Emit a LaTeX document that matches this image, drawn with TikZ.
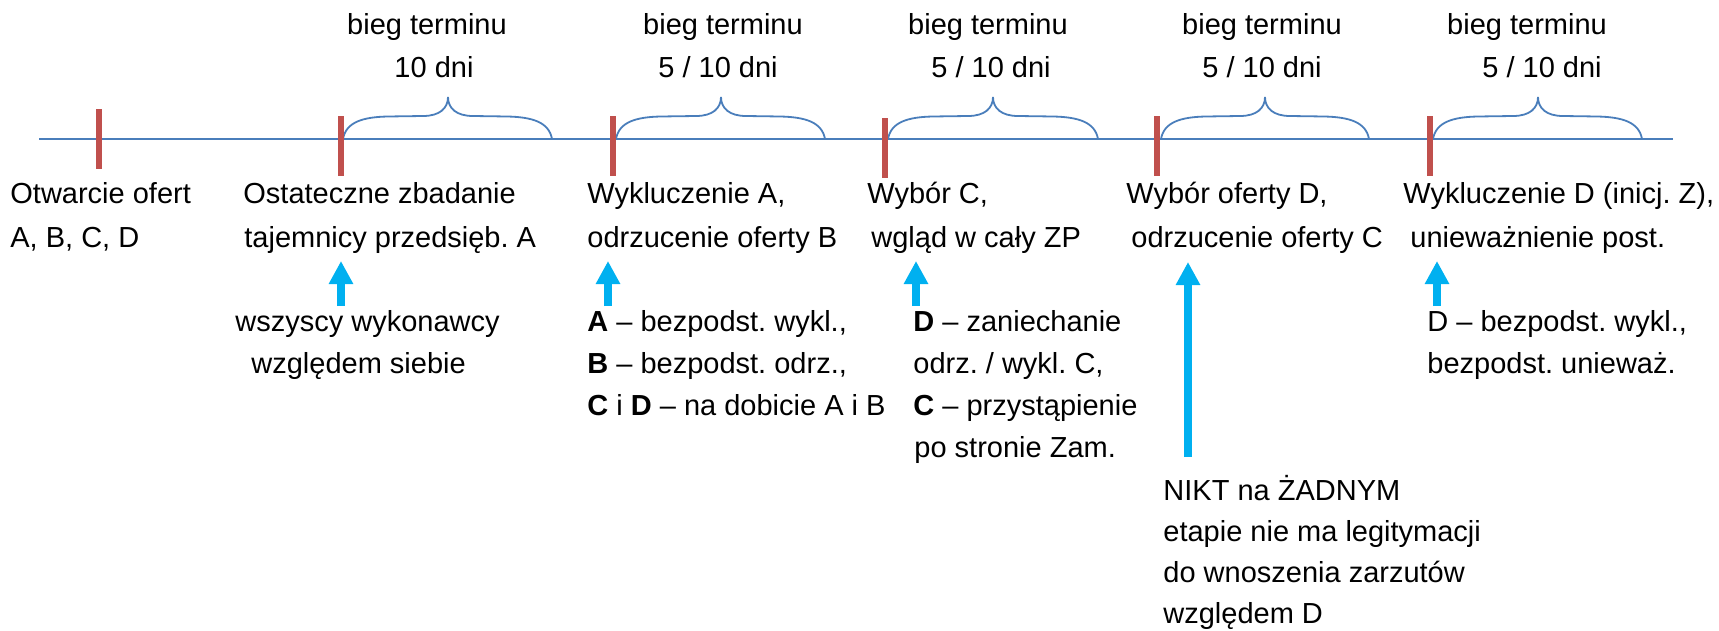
\documentclass[tikz,border=0pt]{standalone}
\usepackage{fontspec}
\setmainfont{Liberation Sans}
\usetikzlibrary{arrows.meta}
\definecolor{tlblue}{RGB}{74,126,187}
\definecolor{tkred}{RGB}{192,80,77}
\definecolor{arcyan}{RGB}{0,176,240}
\frenchspacing
\tikzset{
  tl/.style={draw=tlblue, line width=0.8pt},
  brc/.style={draw=tlblue, line width=0.9pt},
  redtick/.style={fill=tkred, draw=none, minimum width=3pt, minimum height=30pt, inner sep=0pt},
  upar/.style={draw=arcyan, line width=4pt, -{Triangle[length=11.5pt,width=11.5pt]}},
  txt/.style={anchor=base west, inner sep=0pt},
  toptxt/.style={anchor=base, inner sep=0pt},
  every node/.append style={font=\fontsize{14.5pt}{21pt}\selectfont\frenchspacing}
}
\newcommand{\tlbrace}[3]{%
  \draw[brc] (#1,139) .. controls (#1+3,122) and (#1+20,117) .. (#1+45,116.5)
    -- (#2-25,116) .. controls (#2-8,116) and (#2,108) .. (#2,97)
    .. controls (#2,108) and (#2+8,116) .. (#2+25,116)
    -- (#3-45,116.5) .. controls (#3-20,117) and (#3-3,122) .. (#3,139);}
\begin{document}
\begin{tikzpicture}[x=0.5pt, y=-0.5pt]
\useasboundingbox (0,0) rectangle (1719,631);

% timeline
\coordinate (ls) at (39,139);
\coordinate (le) at (1673,139);
\draw[tl] (ls) -- (le);

% braces
\tlbrace{343}{448}{552}
\tlbrace{616}{721}{825}
\tlbrace{888}{993}{1098}
\tlbrace{1161}{1265}{1369}
\tlbrace{1433}{1538}{1642}

% ticks
\node[redtick] (t1) at (99,139) {};
\node[redtick] (t2) at (341,146) {};
\node[redtick] (t3) at (613,146) {};
\node[redtick] (t4) at (885,148) {};
\node[redtick] (t5) at (1157,146) {};
\node[redtick] (t6) at (1430,146) {};

% top labels
\node[toptxt] (b1a) at (427,35) {bieg terminu};
\node[toptxt] (b1b) at (434,78) {10 dni};
\node[toptxt] (b2a) at (723,35) {bieg terminu};
\node[toptxt] (b2b) at (718,78) {5 / 10 dni};
\node[toptxt] (b3a) at (988,35) {bieg terminu};
\node[toptxt] (b3b) at (991,78) {5 / 10 dni};
\node[toptxt] (b4a) at (1262,35) {bieg terminu};
\node[toptxt] (b4b) at (1262,78) {5 / 10 dni};
\node[toptxt] (b5a) at (1527,35) {bieg terminu};
\node[toptxt] (b5b) at (1542,78) {5 / 10 dni};

% event labels
\node[txt] (e1a) at (10,204) {Otwarcie ofert};
\node[txt] (e1b) at (10,247) {A, B, C, D};
\node[txt] (e2a) at (243,204) {Ostateczne zbadanie};
\node[txt] (e2b) at (244,247) {tajemnicy przedsięb. A};
\node[txt] (e3a) at (587,204) {Wykluczenie A,};
\node[txt] (e3b) at (587,247) {odrzucenie oferty B};
\node[txt] (e4a) at (867,204) {Wybór C,};
\node[txt] (e4b) at (871,247) {wgląd w cały ZP};
\node[txt] (e5a) at (1126,204) {Wybór oferty D,};
\node[txt] (e5b) at (1131,247) {odrzucenie oferty C};
\node[txt] (e6a) at (1403,204) {Wykluczenie D (inicj. Z),};
\node[txt] (e6b) at (1410,247) {unieważnienie post.};

% lower notes
\node[txt] (n2a) at (235,331) {wszyscy wykonawcy};
\node[txt] (n2b) at (251,373) {względem siebie};
\node[txt] (n3a) at (587,331) {\textbf{A} – bezpodst. wykl.,};
\node[txt] (n3b) at (587,373) {\textbf{B} – bezpodst. odrz.,};
\node[txt] (n3c) at (587,415) {\textbf{C} i \textbf{D} – na dobicie A i B};
\node[txt] (n4a) at (913,331) {\textbf{D} – zaniechanie};
\node[txt] (n4b) at (913,373) {odrz. / wykl. C,};
\node[txt] (n4c) at (913,415) {\textbf{C} – przystąpienie};
\node[txt] (n4d) at (914,457) {po stronie Zam.};
\node[txt] (n6a) at (1427,331) {D – bezpodst. wykl.,};
\node[txt] (n6b) at (1427,373) {bezpodst. unieważ.};
\node[txt] (n5a) at (1163,500) {NIKT na ŻADNYM};
\node[txt] (n5b) at (1163,541) {etapie nie ma legitymacji};
\node[txt] (n5c) at (1163,582) {do wnoszenia zarzutów};
\node[txt] (n5d) at (1163,623) {względem D};

% arrows
\coordinate (a1s) at (341,306); \coordinate (a1e) at (341,261);
\coordinate (a2s) at (608,306); \coordinate (a2e) at (608,261);
\coordinate (a3s) at (916,306); \coordinate (a3e) at (916,261);
\coordinate (a4s) at (1188,457); \coordinate (a4e) at (1188,262);
\coordinate (a5s) at (1437,306); \coordinate (a5e) at (1437,261);
\draw[upar] (a1s) -- (a1e);
\draw[upar] (a2s) -- (a2e);
\draw[upar] (a3s) -- (a3e);
\draw[upar] (a4s) -- (a4e);
\draw[upar] (a5s) -- (a5e);
\end{tikzpicture}
\end{document}
